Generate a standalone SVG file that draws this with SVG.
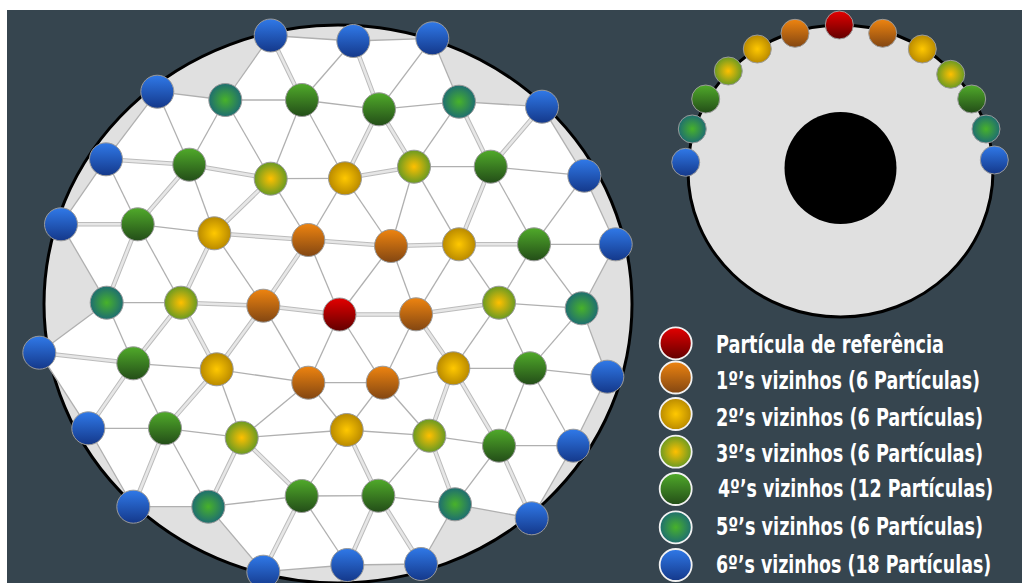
<svg xmlns="http://www.w3.org/2000/svg" xmlns:xlink="http://www.w3.org/1999/xlink" width="1022" height="583" viewBox="0 0 1022 583">
<defs>
<linearGradient id="gBlue" x1="0" y1="0" x2="0" y2="1"><stop offset="0" stop-color="#3079e8"/><stop offset="1" stop-color="#14388a"/></linearGradient>
<linearGradient id="gGreen" x1="0" y1="0" x2="0" y2="1"><stop offset="0" stop-color="#50aa2a"/><stop offset="1" stop-color="#234d18"/></linearGradient>
<linearGradient id="gOrange" x1="0" y1="0" x2="0" y2="1"><stop offset="0" stop-color="#ee8410"/><stop offset="1" stop-color="#824612"/></linearGradient>
<linearGradient id="gRed" x1="0" y1="0" x2="0" y2="1"><stop offset="0" stop-color="#e40000"/><stop offset="1" stop-color="#620000"/></linearGradient>
<radialGradient id="gYellow" cx="0.5" cy="0.5" r="0.5"><stop offset="0" stop-color="#ffc800"/><stop offset="1" stop-color="#b98a00"/></radialGradient>
<radialGradient id="gYG" cx="0.5" cy="0.5" r="0.5"><stop offset="0" stop-color="#ffc000"/><stop offset="1" stop-color="#6a9a22"/></radialGradient>
<radialGradient id="gTeal" cx="0.5" cy="0.5" r="0.5"><stop offset="0" stop-color="#48b22a"/><stop offset="1" stop-color="#1e6e70"/></radialGradient>
<path id="bandPaths" fill="none" d="M106,159.3L189.3,164.7M189.3,164.7L270.7,178.7M345,178.3L414,166.7M61,224.3L137.7,224.3M214.3,233.3L308.3,240M308.3,240L391,246M391,246L459,244.3M459,244.3L534,244.3M181,302.7L263.3,305.7M263.3,305.7L339.5,314.5M339.5,314.5L416,314.3M416,314.3L499,302.7M39.3,352.7L133.3,363.3M270.7,35.5L302,100M353.3,41L379,109.3M379,109.3L345,178.3M379,109.3L414,166.7M459,101.7L490.7,166.7M542,106.7L490.7,166.7M189.3,164.7L137.7,224.3M270.7,178.7L214.3,233.3M490.7,166.7L459,244.3M106.7,302.7L137.7,224.3M181,302.7L214.3,233.3M263.3,305.7L308.3,240M181,302.7L133.3,363.3M181,302.7L216.7,369.3M263.3,305.7L216.7,369.3M416,314.3L453.3,368.3M88.3,428.3L133.3,363.3M165,428.3L216.7,369.3M429.3,435.7L453.3,368.3M499,445.7L453.3,368.3M133.3,506.7L165,428.3M208.3,506.7L241.7,437.7M301.7,496L241.7,437.7M378.3,495.7L346.7,430M455,504.3L429.3,435.7M531.7,518.3L499,445.7M263.3,571.7L301.7,496M347.3,565L378.3,495.7M421,564L378.3,495.7"/>
</defs>
<style>
.e{stroke:#b0b0b0;stroke-width:1.3;fill:none}
.bo{stroke:#bcbcbc;stroke-width:4.6;fill:none}
.bi{stroke:#e6e6e6;stroke-width:2.6;fill:none}
.n{stroke:#9a9a9a;stroke-width:1}
.blue{fill:url(#gBlue)}
.green{fill:url(#gGreen)}
.orange{fill:url(#gOrange)}
.red{fill:url(#gRed)}
.yellow{fill:url(#gYellow)}
.yg{fill:url(#gYG)}
.teal{fill:url(#gTeal)}
.leg{stroke:#f2f2f2;stroke-width:1.8}
.lt{font-family:"DejaVu Sans Condensed","DejaVu Sans",sans-serif;font-weight:bold;font-stretch:condensed;font-size:25px;fill:#ffffff}
</style>
<rect x="0" y="0" width="1022" height="583" fill="#ffffff"/>
<rect x="7" y="10" width="1015" height="573" fill="#36454f"/>

<g id="big-disk">
<ellipse cx="338" cy="304" rx="294" ry="279" fill="#e0e0e0" stroke="#000000" stroke-width="3"/>
<polygon fill="#ffffff" points="270.7,35.5 353.3,41 432.3,38.3 459,101.7 542,106.7 584.3,175.7 615.7,244.3 581.7,308.3 607.3,376.7 573.3,445.7 531.7,518.3 455,504.3 421,564 347.3,565 263.3,571.7 208.3,506.7 133.3,506.7 88.3,428.3 39.3,352.7 106.7,302.7 61,224.3 106,159.3 157.3,91.7 225.3,100"/>
</g>

<g id="connectors">
<line class="e" x1="270.7" y1="35.5" x2="353.3" y2="41"/>
<line class="e" x1="353.3" y1="41" x2="432.3" y2="38.3"/>
<line class="e" x1="157.3" y1="91.7" x2="225.3" y2="100"/>
<line class="e" x1="225.3" y1="100" x2="302" y2="100"/>
<line class="e" x1="302" y1="100" x2="379" y2="109.3"/>
<line class="e" x1="379" y1="109.3" x2="459" y2="101.7"/>
<line class="e" x1="459" y1="101.7" x2="542" y2="106.7"/>
<line class="e" x1="270.7" y1="178.7" x2="345" y2="178.3"/>
<line class="e" x1="414" y1="166.7" x2="490.7" y2="166.7"/>
<line class="e" x1="490.7" y1="166.7" x2="584.3" y2="175.7"/>
<line class="e" x1="137.7" y1="224.3" x2="214.3" y2="233.3"/>
<line class="e" x1="534" y1="244.3" x2="615.7" y2="244.3"/>
<line class="e" x1="106.7" y1="302.7" x2="181" y2="302.7"/>
<line class="e" x1="499" y1="302.7" x2="581.7" y2="308.3"/>
<line class="e" x1="133.3" y1="363.3" x2="216.7" y2="369.3"/>
<line class="e" x1="216.7" y1="369.3" x2="308.3" y2="382.7"/>
<line class="e" x1="308.3" y1="382.7" x2="382.7" y2="382.7"/>
<line class="e" x1="382.7" y1="382.7" x2="453.3" y2="368.3"/>
<line class="e" x1="453.3" y1="368.3" x2="530" y2="368.3"/>
<line class="e" x1="530" y1="368.3" x2="607.3" y2="376.7"/>
<line class="e" x1="88.3" y1="428.3" x2="165" y2="428.3"/>
<line class="e" x1="165" y1="428.3" x2="241.7" y2="437.7"/>
<line class="e" x1="241.7" y1="437.7" x2="346.7" y2="430"/>
<line class="e" x1="346.7" y1="430" x2="429.3" y2="435.7"/>
<line class="e" x1="429.3" y1="435.7" x2="499" y2="445.7"/>
<line class="e" x1="499" y1="445.7" x2="573.3" y2="445.7"/>
<line class="e" x1="133.3" y1="506.7" x2="208.3" y2="506.7"/>
<line class="e" x1="208.3" y1="506.7" x2="301.7" y2="496"/>
<line class="e" x1="301.7" y1="496" x2="378.3" y2="495.7"/>
<line class="e" x1="378.3" y1="495.7" x2="455" y2="504.3"/>
<line class="e" x1="455" y1="504.3" x2="531.7" y2="518.3"/>
<line class="e" x1="263.3" y1="571.7" x2="347.3" y2="565"/>
<line class="e" x1="347.3" y1="565" x2="421" y2="564"/>
<line class="e" x1="270.7" y1="35.5" x2="225.3" y2="100"/>
<line class="e" x1="353.3" y1="41" x2="302" y2="100"/>
<line class="e" x1="432.3" y1="38.3" x2="379" y2="109.3"/>
<line class="e" x1="432.3" y1="38.3" x2="459" y2="101.7"/>
<line class="e" x1="157.3" y1="91.7" x2="106" y2="159.3"/>
<line class="e" x1="157.3" y1="91.7" x2="189.3" y2="164.7"/>
<line class="e" x1="225.3" y1="100" x2="189.3" y2="164.7"/>
<line class="e" x1="225.3" y1="100" x2="270.7" y2="178.7"/>
<line class="e" x1="302" y1="100" x2="270.7" y2="178.7"/>
<line class="e" x1="302" y1="100" x2="345" y2="178.3"/>
<line class="e" x1="459" y1="101.7" x2="414" y2="166.7"/>
<line class="e" x1="542" y1="106.7" x2="584.3" y2="175.7"/>
<line class="e" x1="106" y1="159.3" x2="61" y2="224.3"/>
<line class="e" x1="106" y1="159.3" x2="137.7" y2="224.3"/>
<line class="e" x1="189.3" y1="164.7" x2="214.3" y2="233.3"/>
<line class="e" x1="270.7" y1="178.7" x2="308.3" y2="240"/>
<line class="e" x1="345" y1="178.3" x2="308.3" y2="240"/>
<line class="e" x1="345" y1="178.3" x2="391" y2="246"/>
<line class="e" x1="414" y1="166.7" x2="391" y2="246"/>
<line class="e" x1="414" y1="166.7" x2="459" y2="244.3"/>
<line class="e" x1="490.7" y1="166.7" x2="534" y2="244.3"/>
<line class="e" x1="584.3" y1="175.7" x2="534" y2="244.3"/>
<line class="e" x1="584.3" y1="175.7" x2="615.7" y2="244.3"/>
<line class="e" x1="106.7" y1="302.7" x2="61" y2="224.3"/>
<line class="e" x1="181" y1="302.7" x2="137.7" y2="224.3"/>
<line class="e" x1="263.3" y1="305.7" x2="214.3" y2="233.3"/>
<line class="e" x1="339.5" y1="314.5" x2="308.3" y2="240"/>
<line class="e" x1="339.5" y1="314.5" x2="391" y2="246"/>
<line class="e" x1="416" y1="314.3" x2="391" y2="246"/>
<line class="e" x1="416" y1="314.3" x2="459" y2="244.3"/>
<line class="e" x1="499" y1="302.7" x2="459" y2="244.3"/>
<line class="e" x1="499" y1="302.7" x2="534" y2="244.3"/>
<line class="e" x1="581.7" y1="308.3" x2="534" y2="244.3"/>
<line class="e" x1="581.7" y1="308.3" x2="615.7" y2="244.3"/>
<line class="e" x1="106.7" y1="302.7" x2="39.3" y2="352.7"/>
<line class="e" x1="106.7" y1="302.7" x2="133.3" y2="363.3"/>
<line class="e" x1="263.3" y1="305.7" x2="308.3" y2="382.7"/>
<line class="e" x1="339.5" y1="314.5" x2="308.3" y2="382.7"/>
<line class="e" x1="339.5" y1="314.5" x2="382.7" y2="382.7"/>
<line class="e" x1="416" y1="314.3" x2="382.7" y2="382.7"/>
<line class="e" x1="499" y1="302.7" x2="453.3" y2="368.3"/>
<line class="e" x1="499" y1="302.7" x2="530" y2="368.3"/>
<line class="e" x1="581.7" y1="308.3" x2="530" y2="368.3"/>
<line class="e" x1="581.7" y1="308.3" x2="607.3" y2="376.7"/>
<line class="e" x1="88.3" y1="428.3" x2="39.3" y2="352.7"/>
<line class="e" x1="165" y1="428.3" x2="133.3" y2="363.3"/>
<line class="e" x1="241.7" y1="437.7" x2="216.7" y2="369.3"/>
<line class="e" x1="241.7" y1="437.7" x2="308.3" y2="382.7"/>
<line class="e" x1="346.7" y1="430" x2="308.3" y2="382.7"/>
<line class="e" x1="346.7" y1="430" x2="382.7" y2="382.7"/>
<line class="e" x1="429.3" y1="435.7" x2="382.7" y2="382.7"/>
<line class="e" x1="499" y1="445.7" x2="530" y2="368.3"/>
<line class="e" x1="573.3" y1="445.7" x2="530" y2="368.3"/>
<line class="e" x1="573.3" y1="445.7" x2="607.3" y2="376.7"/>
<line class="e" x1="133.3" y1="506.7" x2="88.3" y2="428.3"/>
<line class="e" x1="208.3" y1="506.7" x2="165" y2="428.3"/>
<line class="e" x1="301.7" y1="496" x2="346.7" y2="430"/>
<line class="e" x1="378.3" y1="495.7" x2="429.3" y2="435.7"/>
<line class="e" x1="455" y1="504.3" x2="499" y2="445.7"/>
<line class="e" x1="531.7" y1="518.3" x2="573.3" y2="445.7"/>
<line class="e" x1="263.3" y1="571.7" x2="208.3" y2="506.7"/>
<line class="e" x1="347.3" y1="565" x2="301.7" y2="496"/>
<line class="e" x1="421" y1="564" x2="455" y2="504.3"/>
<use class="bo" href="#bandPaths" xlink:href="#bandPaths"/>
<use class="bi" href="#bandPaths" xlink:href="#bandPaths"/>
</g>

<g id="particles" class="n">
<g id="B1"><circle class="blue" cx="270.7" cy="35.5" r="16.5"/></g>
<g id="B2"><circle class="blue" cx="353.3" cy="41" r="16.5"/></g>
<g id="B3"><circle class="blue" cx="432.3" cy="38.3" r="16.5"/></g>
<g id="B4"><circle class="blue" cx="157.3" cy="91.7" r="16.5"/></g>
<g id="T1"><circle class="teal" cx="225.3" cy="100" r="16.5"/></g>
<g id="G1"><circle class="green" cx="302" cy="100" r="16.5"/></g>
<g id="G2"><circle class="green" cx="379" cy="109.3" r="16.5"/></g>
<g id="T2"><circle class="teal" cx="459" cy="101.7" r="16.5"/></g>
<g id="B5"><circle class="blue" cx="542" cy="106.7" r="16.5"/></g>
<g id="B6"><circle class="blue" cx="106" cy="159.3" r="16.5"/></g>
<g id="G3"><circle class="green" cx="189.3" cy="164.7" r="16.5"/></g>
<g id="Y3a"><circle class="yg" cx="270.7" cy="178.7" r="16.5"/></g>
<g id="Y2a"><circle class="yellow" cx="345" cy="178.3" r="16.5"/></g>
<g id="Y3b"><circle class="yg" cx="414" cy="166.7" r="16.5"/></g>
<g id="G4"><circle class="green" cx="490.7" cy="166.7" r="16.5"/></g>
<g id="B7"><circle class="blue" cx="584.3" cy="175.7" r="16.5"/></g>
<g id="B8"><circle class="blue" cx="61" cy="224.3" r="16.5"/></g>
<g id="G5"><circle class="green" cx="137.7" cy="224.3" r="16.5"/></g>
<g id="Y2b"><circle class="yellow" cx="214.3" cy="233.3" r="16.5"/></g>
<g id="O1"><circle class="orange" cx="308.3" cy="240" r="16.5"/></g>
<g id="O2"><circle class="orange" cx="391" cy="246" r="16.5"/></g>
<g id="Y2c"><circle class="yellow" cx="459" cy="244.3" r="16.5"/></g>
<g id="G6"><circle class="green" cx="534" cy="244.3" r="16.5"/></g>
<g id="B9"><circle class="blue" cx="615.7" cy="244.3" r="16.5"/></g>
<g id="T3"><circle class="teal" cx="106.7" cy="302.7" r="16.5"/></g>
<g id="Y3c"><circle class="yg" cx="181" cy="302.7" r="16.5"/></g>
<g id="O3"><circle class="orange" cx="263.3" cy="305.7" r="16.5"/></g>
<g id="R"><circle class="red" cx="339.5" cy="314.5" r="16.5"/></g>
<g id="O4"><circle class="orange" cx="416" cy="314.3" r="16.5"/></g>
<g id="Y3d"><circle class="yg" cx="499" cy="302.7" r="16.5"/></g>
<g id="T4"><circle class="teal" cx="581.7" cy="308.3" r="16.5"/></g>
<g id="B10"><circle class="blue" cx="39.3" cy="352.7" r="16.5"/></g>
<g id="G7"><circle class="green" cx="133.3" cy="363.3" r="16.5"/></g>
<g id="Y2d"><circle class="yellow" cx="216.7" cy="369.3" r="16.5"/></g>
<g id="O5"><circle class="orange" cx="308.3" cy="382.7" r="16.5"/></g>
<g id="O6"><circle class="orange" cx="382.7" cy="382.7" r="16.5"/></g>
<g id="Y2e"><circle class="yellow" cx="453.3" cy="368.3" r="16.5"/></g>
<g id="G8"><circle class="green" cx="530" cy="368.3" r="16.5"/></g>
<g id="B11"><circle class="blue" cx="607.3" cy="376.7" r="16.5"/></g>
<g id="B12"><circle class="blue" cx="88.3" cy="428.3" r="16.5"/></g>
<g id="G9"><circle class="green" cx="165" cy="428.3" r="16.5"/></g>
<g id="Y3e"><circle class="yg" cx="241.7" cy="437.7" r="16.5"/></g>
<g id="Y2f"><circle class="yellow" cx="346.7" cy="430" r="16.5"/></g>
<g id="Y3f"><circle class="yg" cx="429.3" cy="435.7" r="16.5"/></g>
<g id="G10"><circle class="green" cx="499" cy="445.7" r="16.5"/></g>
<g id="B13"><circle class="blue" cx="573.3" cy="445.7" r="16.5"/></g>
<g id="B14"><circle class="blue" cx="133.3" cy="506.7" r="16.5"/></g>
<g id="T5"><circle class="teal" cx="208.3" cy="506.7" r="16.5"/></g>
<g id="G11"><circle class="green" cx="301.7" cy="496" r="16.5"/></g>
<g id="G12"><circle class="green" cx="378.3" cy="495.7" r="16.5"/></g>
<g id="T6"><circle class="teal" cx="455" cy="504.3" r="16.5"/></g>
<g id="B15"><circle class="blue" cx="531.7" cy="518.3" r="16.5"/></g>
<g id="B16"><circle class="blue" cx="263.3" cy="571.7" r="16.5"/></g>
<g id="B17"><circle class="blue" cx="347.3" cy="565" r="16.5"/></g>
<g id="B18"><circle class="blue" cx="421" cy="564" r="16.5"/></g>
</g>

<g id="side-view">
<ellipse cx="840.5" cy="171" rx="152.5" ry="146" fill="#e0e0e0" stroke="#000000" stroke-width="3"/>
<circle cx="840.5" cy="168" r="56" fill="#000000"/>
<g class="n">
<circle class="red" cx="839.3" cy="25" r="14"/>
<circle class="orange" cx="795" cy="33.3" r="14"/>
<circle class="orange" cx="882.7" cy="33.3" r="14"/>
<circle class="yellow" cx="757.3" cy="49" r="14"/>
<circle class="yellow" cx="922.3" cy="49" r="14"/>
<circle class="yg" cx="728.3" cy="71" r="14"/>
<circle class="yg" cx="950.7" cy="74.3" r="14"/>
<circle class="green" cx="705.7" cy="99" r="14"/>
<circle class="green" cx="971.7" cy="99" r="14"/>
<circle class="teal" cx="692.3" cy="129" r="14"/>
<circle class="teal" cx="986" cy="129" r="14"/>
<circle class="blue" cx="685.7" cy="162.3" r="14"/>
<circle class="blue" cx="994.3" cy="160" r="14"/>
</g>
</g>

<g id="legend">
<g id="leg-ref"><circle class="red leg" cx="675.7" cy="343.3" r="16"/><text class="lt" transform="translate(716,352.5) scale(0.75,1)" x="0" y="0" textLength="304" lengthAdjust="spacingAndGlyphs">Partícula de referência</text></g>
<g id="leg-1"><circle class="orange leg" cx="675.7" cy="377.5" r="16"/><text class="lt" transform="translate(716,388.5) scale(0.75,1)" x="0" y="0" textLength="352" lengthAdjust="spacingAndGlyphs">1º’s vizinhos (6 Partículas)</text></g>
<g id="leg-2"><circle class="yellow leg" cx="675.7" cy="414" r="16"/><text class="lt" transform="translate(716,425.5) scale(0.75,1)" x="0" y="0" textLength="356" lengthAdjust="spacingAndGlyphs">2º’s vizinhos (6 Partículas)</text></g>
<g id="leg-3"><circle class="yg leg" cx="675.7" cy="451.7" r="16"/><text class="lt" transform="translate(716,462) scale(0.75,1)" x="0" y="0" textLength="356" lengthAdjust="spacingAndGlyphs">3º’s vizinhos (6 Partículas)</text></g>
<g id="leg-4"><circle class="green leg" cx="675.7" cy="489" r="16"/><text class="lt" transform="translate(718,497) scale(0.75,1)" x="0" y="0" textLength="367" lengthAdjust="spacingAndGlyphs">4º’s vizinhos (12 Partículas)</text></g>
<g id="leg-5"><circle class="teal leg" cx="675.7" cy="527.3" r="16"/><text class="lt" transform="translate(716,534.5) scale(0.75,1)" x="0" y="0" textLength="356" lengthAdjust="spacingAndGlyphs">5º’s vizinhos (6 Partículas)</text></g>
<g id="leg-6"><circle class="blue leg" cx="675.7" cy="565" r="16"/><text class="lt" transform="translate(716,573) scale(0.75,1)" x="0" y="0" textLength="367" lengthAdjust="spacingAndGlyphs">6º’s vizinhos (18 Partículas)</text></g>
</g>
</svg>
